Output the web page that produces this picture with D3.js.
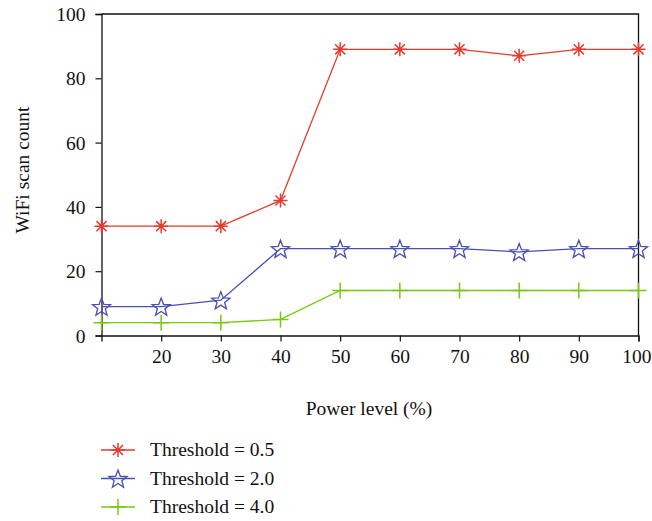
<!DOCTYPE html>
<html>
<head>
<meta charset="utf-8">
<script src="https://cdn.jsdelivr.net/npm/d3@7"></script>
<style>
  html, body { margin: 0; padding: 0; background: #fff; }
  svg text { font-family: "Liberation Serif", "DejaVu Serif", serif; fill: #111; }
</style>
</head>
<body>
<svg id="chart" width="652" height="521"></svg>
<script>
// Power levels (%) on the x axis
const powerLevels = [10, 20, 30, 40, 50, 60, 70, 80, 90, 100];
// WiFi scan counts per threshold
const threshold05 = [34, 34, 34, 42, 89, 89, 89, 87, 89, 89];
const threshold20 = [9, 9, 11, 27, 27, 27, 27, 26, 27, 27];
const threshold40 = [4, 4, 4, 5, 14, 14, 14, 14, 14, 14];
const seriesNames = ["Threshold = 0.5", "Threshold = 2.0", "Threshold = 4.0"];
const xTicks = [20, 30, 40, 50, 60, 70, 80, 90, 100];
const yTicks = [0, 20, 40, 60, 80, 100];

const series = [
  { name: seriesNames[0], values: threshold05, color: "#e53a2c", marker: "asterisk" },
  { name: seriesNames[1], values: threshold20, color: "#4a4fb2", marker: "star" },
  { name: seriesNames[2], values: threshold40, color: "#79c714", marker: "plus" }
];

const FONT = 19.5;
const W = 652;
const svg = d3.select("#chart");
const plot = { left: 101.5, right: 638.5, top: 14, bottom: 335.5 };

const x = d3.scaleLinear().domain([10, 100]).range([plot.left, plot.right]);
const y = d3.scaleLinear().domain([0, 100]).range([plot.bottom, plot.top]);

// Frame (top and right edges)
svg.append("path")
  .attr("d", `M${plot.left},${plot.top}H${plot.right}V${plot.bottom}`)
  .attr("fill", "none").attr("stroke", "#111").attr("stroke-width", 1.3);

// Axes
const xAxis = svg.append("g").attr("transform", `translate(0,${plot.bottom})`)
  .call(d3.axisBottom(x).tickValues(xTicks).tickSize(6).tickPadding(8).tickFormat(d3.format("d")));
const yAxis = svg.append("g").attr("transform", `translate(${plot.left},0)`)
  .call(d3.axisLeft(y).tickValues(yTicks).tickSize(6).tickPadding(10).tickFormat(d3.format("d")));
[xAxis, yAxis].forEach(g => {
  g.select(".domain").attr("stroke", "#111").attr("stroke-width", 1.3);
  g.selectAll(".tick line").attr("stroke", "#111").attr("stroke-width", 1.2);
  g.selectAll("text").attr("font-size", FONT).attr("fill", "#111")
    .style("font-family", "'Liberation Serif', 'DejaVu Serif', serif");
});
xAxis.selectAll("text").attr("dy", "0.71em");
yAxis.selectAll("text").attr("dy", "0.34em");

// Keep the last x tick label inside the canvas
xAxis.selectAll(".tick").filter(d => d === 100).select("text")
  .attr("text-anchor", "end").attr("x", W - 1 - x(100));

// Axis titles
svg.append("text").attr("x", (plot.left + plot.right) / 2 - 1).attr("y", 415)
  .attr("text-anchor", "middle").attr("font-size", FONT).text("Power level (%)");
svg.append("text")
  .attr("transform", `translate(28.5,170) rotate(-90)`)
  .attr("text-anchor", "middle").attr("font-size", FONT).text("WiFi scan count");

// Marker shapes
function starPath(r) {
  const inner = r * 0.42, pts = [];
  for (let i = 0; i < 10; i++) {
    const a = -Math.PI / 2 + i * Math.PI / 5;
    const rr = i % 2 === 0 ? r : inner;
    pts.push([rr * Math.cos(a), rr * Math.sin(a)]);
  }
  return "M" + pts.map(p => p.join(",")).join("L") + "Z";
}
function drawMarker(g, type, cx, cy, color) {
  if (type === "asterisk") {
    const r = 7, d = r * 0.72;
    g.append("path")
      .attr("d", `M${cx},${cy - r}V${cy + r}M${cx - r},${cy}H${cx + r}M${cx - d},${cy - d}L${cx + d},${cy + d}M${cx - d},${cy + d}L${cx + d},${cy - d}`)
      .attr("stroke", color).attr("stroke-width", 1.5).attr("fill", "none");
  } else if (type === "star") {
    g.append("path").attr("d", starPath(9.5))
      .attr("transform", `translate(${cx},${cy + 1})`)
      .attr("stroke", color).attr("stroke-width", 1.3).attr("fill", "none");
  } else {
    const r = 8;
    g.append("path")
      .attr("d", `M${cx},${cy - r}V${cy + r}M${cx - r},${cy}H${cx + r}`)
      .attr("stroke", color).attr("stroke-width", 1.5).attr("fill", "none");
  }
}

const line = d3.line().x((d, i) => x(powerLevels[i])).y(d => y(d));

series.forEach(s => {
  const g = svg.append("g");
  g.append("path").datum(s.values).attr("d", line)
    .attr("fill", "none").attr("stroke", s.color).attr("stroke-width", 1.3);
  s.values.forEach((v, i) => drawMarker(g, s.marker, x(powerLevels[i]), y(v), s.color));
});

// Legend
const legend = svg.append("g");
series.forEach((s, i) => {
  const ly = 450 + i * 28.5;
  legend.append("line").attr("x1", 101).attr("x2", 135).attr("y1", ly).attr("y2", ly)
    .attr("stroke", s.color).attr("stroke-width", 1.3);
  drawMarker(legend, s.marker, 118, ly, s.color);
  legend.append("text").attr("x", 150).attr("y", ly + 6).attr("font-size", FONT).text(s.name);
});
</script>
</body>
</html>
